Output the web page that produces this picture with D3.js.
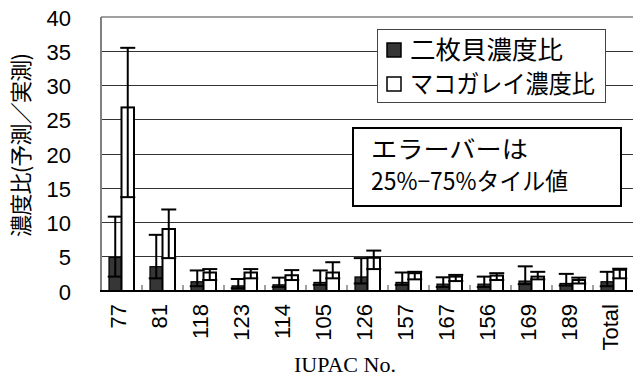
<!DOCTYPE html>
<html>
<head>
<meta charset="utf-8">
<script src="https://cdn.jsdelivr.net/npm/d3@7"></script>
<style>
  html, body { margin: 0; padding: 0; background: #fff; }
  svg { display: block; }
</style>
</head>
<body>
<svg id="chart" width="633" height="379"></svg>
<script>
// IUPAC congener numbers on the x axis
const categories = ['77', '81', '118', '123', '114', '105', '126', '157', '167', '156', '169', '189', 'Total'];

// Predicted / measured concentration ratio — bivalves (median, 25th and 75th percentiles)
const bivalve     = [4.9, 3.55, 1.35, 0.75, 0.9, 1.25, 2.05, 1.25, 1.0, 1.0, 1.45, 1.1, 1.35];
const bivalveLow  = [2.1, 1.85, 0.7, 0.4, 0.6, 0.9, 1.1, 0.9, 0.6, 0.6, 1.0, 0.8, 0.7];
const bivalveHigh = [10.85, 8.2, 3.0, 1.75, 1.95, 3.0, 4.8, 2.7, 2.0, 2.1, 3.6, 2.5, 2.8];

// Predicted / measured concentration ratio — marbled flounder
const flounder     = [26.8, 9.05, 2.7, 2.7, 2.3, 2.7, 4.85, 2.6, 2.1, 2.25, 2.1, 1.6, 3.1];
const flounderLow  = [13.7, 4.8, 1.6, 1.85, 1.6, 1.85, 3.2, 1.7, 1.45, 1.6, 1.7, 1.1, 1.85];
const flounderHigh = [35.5, 11.9, 3.2, 3.2, 3.05, 4.2, 5.9, 2.8, 2.35, 2.6, 2.8, 1.95, 3.25];

const yTicks = [0, 5, 10, 15, 20, 25, 30, 35, 40];
const seriesNames = ['二枚貝濃度比', 'マコガレイ濃度比'];
const noteLines = ['エラーバーは', '25%−75%タイル値'];

const svg = d3.select('#chart');
const plotLeft = 101, plotRight = 634, plotTop = 17, plotBottom = 291;
const cjk = 'Noto Sans CJK JP, sans-serif';
const sans = 'Liberation Sans, Arial, sans-serif';

const x = d3.scaleBand().domain(categories).range([plotLeft, plotRight]).paddingInner(0).paddingOuter(0);
const xSub = d3.scaleBand().domain([0, 1]).range([0, x.bandwidth()]).paddingInner(0).paddingOuter(0.64);
const y = d3.scaleLinear().domain([0, 40]).range([plotBottom, plotTop]);

// horizontal gridlines
svg.append('g').selectAll('line').data(yTicks.filter(t => t > 0 && t < 40)).join('line')
  .attr('x1', plotLeft).attr('x2', plotRight)
  .attr('y1', d => y(d)).attr('y2', d => y(d))
  .attr('stroke', '#333').attr('stroke-width', 1).attr('shape-rendering', 'crispEdges');

// top frame line and left axis line
svg.append('line').attr('x1', plotLeft).attr('x2', plotRight).attr('y1', y(40)).attr('y2', y(40))
  .attr('stroke', '#808080').attr('stroke-width', 1.5);
svg.append('line').attr('x1', plotLeft).attr('x2', plotLeft).attr('y1', y(40)).attr('y2', y(0))
  .attr('stroke', '#808080').attr('stroke-width', 2);

// y tick labels
svg.append('g').selectAll('text').data(yTicks).join('text')
  .attr('x', 71).attr('y', d => y(d) + 1)
  .attr('text-anchor', 'end').attr('dominant-baseline', 'central')
  .attr('font-family', sans).attr('font-size', 22)
  .attr('fill', '#000')
  .text(d => d);

// y axis title
svg.append('text')
  .attr('transform', 'translate(29,145) rotate(-90)')
  .attr('text-anchor', 'middle')
  .attr('font-family', cjk).attr('font-size', 22)
  .attr('textLength', 184).attr('lengthAdjust', 'spacing')
  .attr('fill', '#000')
  .text('濃度比(予測／実測)');

// category separator ticks on the x axis
svg.append('g').selectAll('line').data(categories.slice(1)).join('line')
  .attr('x1', d => x(d)).attr('x2', d => x(d))
  .attr('y1', plotBottom).attr('y2', plotBottom - 6)
  .attr('stroke', '#808080').attr('stroke-width', 1.5);

// bars + error bars
const series = [
  { vals: bivalve, lo: bivalveLow, hi: bivalveHigh, fill: '#363636', sw: 1.2 },
  { vals: flounder, lo: flounderLow, hi: flounderHigh, fill: '#ffffff', sw: 2 }
];
const capHalf = 7.5;
series.forEach((s, si) => {
  const g = svg.append('g');
  g.selectAll('rect').data(categories).join('rect')
    .attr('x', c => x(c) + xSub(si))
    .attr('width', xSub.bandwidth())
    .attr('y', (c, i) => y(s.vals[i]))
    .attr('height', (c, i) => y(0) - y(s.vals[i]))
    .attr('fill', s.fill).attr('stroke', '#000').attr('stroke-width', s.sw);
  const cx = c => x(c) + xSub(si) + xSub.bandwidth() / 2;
  const eg = svg.append('g').attr('stroke', '#000').attr('stroke-width', 2);
  eg.selectAll('line.v').data(categories).join('line').attr('class', 'v')
    .attr('x1', cx).attr('x2', cx)
    .attr('y1', (c, i) => y(s.lo[i])).attr('y2', (c, i) => y(s.hi[i]));
  eg.selectAll('line.hi').data(categories).join('line').attr('class', 'hi')
    .attr('x1', c => cx(c) - capHalf).attr('x2', c => cx(c) + capHalf)
    .attr('y1', (c, i) => y(s.hi[i])).attr('y2', (c, i) => y(s.hi[i]));
  eg.selectAll('line.lo').data(categories).join('line').attr('class', 'lo')
    .attr('x1', c => cx(c) - capHalf).attr('x2', c => cx(c) + capHalf)
    .attr('y1', (c, i) => y(s.lo[i])).attr('y2', (c, i) => y(s.lo[i]));
});

// x axis baseline
svg.append('line').attr('x1', plotLeft - 1).attr('x2', plotRight).attr('y1', plotBottom).attr('y2', plotBottom)
  .attr('stroke', '#000').attr('stroke-width', 2);

// x tick labels (rotated)
svg.append('g').selectAll('text').data(categories).join('text')
  .attr('transform', c => `translate(${x(c) + x.bandwidth() / 2 - 3},304) rotate(-90)`)
  .attr('text-anchor', 'end').attr('dominant-baseline', 'central')
  .attr('font-family', sans).attr('font-size', 22)
  .attr('fill', '#000')
  .text(c => c);

// x axis title
svg.append('text')
  .attr('x', 345).attr('y', 372)
  .attr('text-anchor', 'middle')
  .attr('font-family', 'Liberation Serif, Times New Roman, serif').attr('font-size', 22)
  .attr('fill', '#000')
  .text('IUPAC No.');

// legend
const lg = svg.append('g');
lg.append('rect').attr('x', 377.5).attr('y', 29.5).attr('width', 228).attr('height', 73)
  .attr('fill', '#fff').attr('stroke', '#444').attr('stroke-width', 1);
const legendRow = d3.scaleBand().domain([0, 1]).range([36, 104]);
const legendTextWidth = [153, 185];
seriesNames.forEach((name, i) => {
  const cy = legendRow(i) + legendRow.bandwidth() / 2 - 3;
  lg.append('rect').attr('x', 387).attr('y', cy - 7).attr('width', 14).attr('height', 14)
    .attr('fill', series[i].fill).attr('stroke', '#000').attr('stroke-width', 1.5);
  lg.append('text')
    .attr('x', 410).attr('y', cy + 9)
    .attr('font-family', cjk).attr('font-size', 25)
    .attr('textLength', legendTextWidth[i]).attr('lengthAdjust', 'spacingAndGlyphs')
    .attr('fill', '#000')
    .text(name);
});

// error bar note
const ng = svg.append('g');
ng.append('rect').attr('x', 353).attr('y', 128).attr('width', 268).attr('height', 78)
  .attr('fill', '#fff').attr('stroke', '#000').attr('stroke-width', 2);
const noteWidth = [157, 197];
ng.selectAll('text').data(noteLines).join('text')
  .attr('x', 371).attr('y', (d, i) => 158 + i * 32)
  .attr('font-family', cjk).attr('font-size', 24)
  .attr('textLength', (d, i) => noteWidth[i]).attr('lengthAdjust', 'spacingAndGlyphs')
  .attr('fill', '#000')
  .text(d => d);
</script>
</body>
</html>
